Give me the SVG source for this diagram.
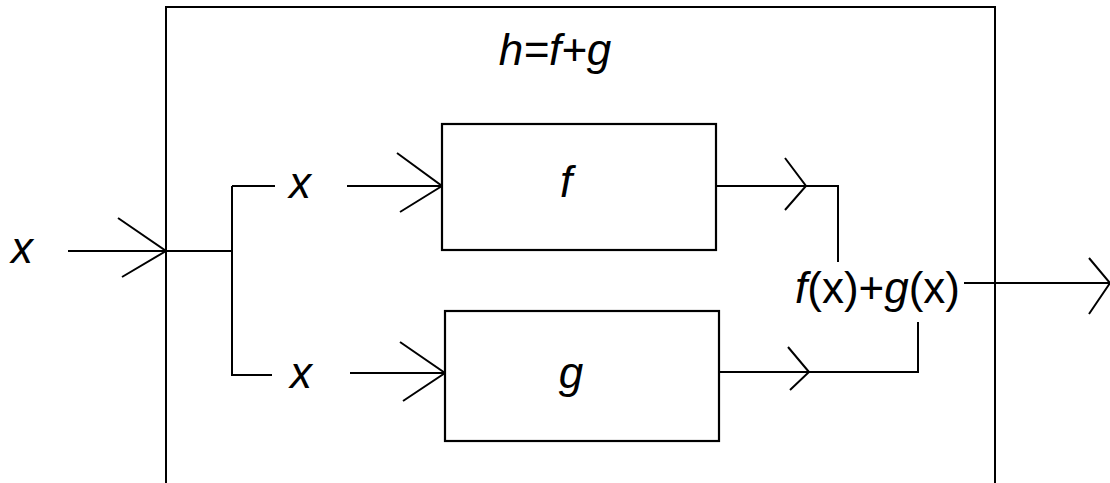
<svg xmlns="http://www.w3.org/2000/svg" width="1110" height="483" viewBox="0 0 1110 483">
<style>
.ln{fill:none;stroke:#000;stroke-width:2;stroke-linejoin:miter;stroke-linecap:butt}
.bx{fill:#fff;stroke:#000;stroke-width:2.2}
.t{font-family:"Liberation Sans",Arial,sans-serif;font-size:44px;fill:#000}
.i{font-style:italic}
</style>
<rect width="1110" height="483" fill="#fff"/>
<g id="outer">
<path class="ln" d="M166,483 V7 H995 V483"/>
<text class="t i" x="555" y="65" text-anchor="middle">h=f+g</text>
</g>
<g id="connectors">
<path class="ln" d="M68,251 H232"/>
<path class="ln" d="M118,218 L166,251 L122,277"/>
<path class="ln" d="M232,186 V376"/>
<path class="ln" d="M232,186 H275"/>
<path class="ln" d="M232,375 H272"/>
<path class="ln" d="M347,186 H442"/>
<path class="ln" d="M397,153 L442,186 L400,212"/>
<path class="ln" d="M350,373 H445"/>
<path class="ln" d="M400,342 L445,373 L403,401"/>
<path class="ln" d="M716,186 H838 V262"/>
<path class="ln" d="M785,158 L806,186 L785,210"/>
<path class="ln" d="M719,372 H918 V322"/>
<path class="ln" d="M788,347 L809,372 L790,390"/>
<path class="ln" d="M964,283 H1110"/>
<path class="ln" d="M1089,258 L1110,283 L1089,314"/>
</g>
<g id="input-label"><text class="t i" x="11" y="263">x</text></g>
<g id="x-top"><text class="t i" x="289" y="198">x</text></g>
<g id="x-bottom"><text class="t i" x="290" y="388">x</text></g>
<g id="node-f">
<rect class="bx" x="442" y="124" width="274" height="126"/>
<text class="t i" x="566" y="197" text-anchor="middle">f</text>
</g>
<g id="node-g">
<rect class="bx" x="445" y="311" width="274" height="130"/>
<text class="t i" x="571" y="388" text-anchor="middle">g</text>
</g>
<g id="sum">
<text class="t" x="795" y="303"><tspan class="i">f</tspan>(x)+<tspan class="i">g</tspan>(x)</text>
</g>
</svg>
